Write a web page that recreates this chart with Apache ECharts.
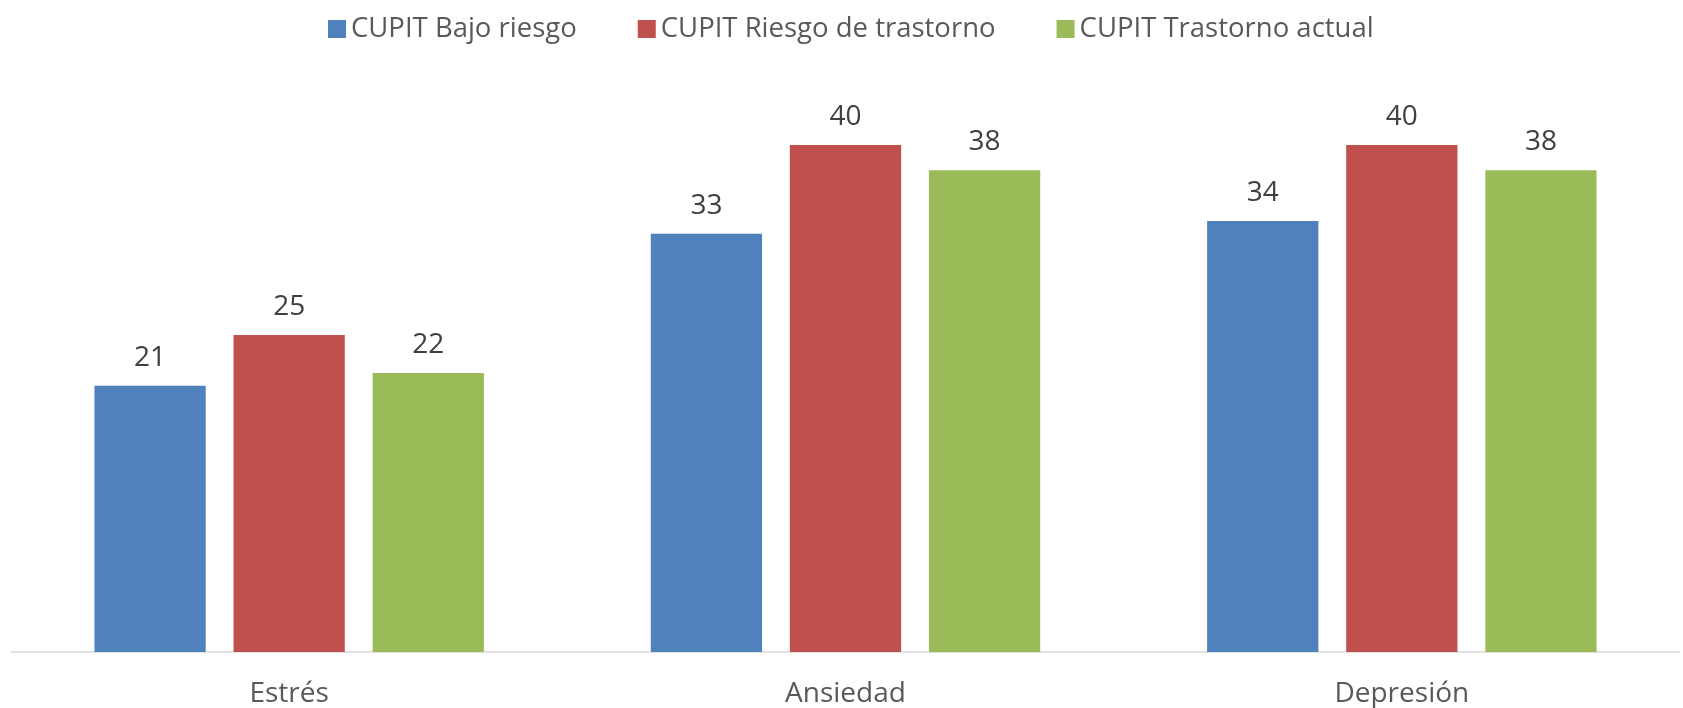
<!DOCTYPE html>
<html>
<head>
<meta charset="utf-8">
<script src="https://cdn.jsdelivr.net/npm/echarts@6/dist/echarts.min.js"></script>
<style>
html,body{margin:0;padding:0;background:#fff;}
#chart{width:1683px;height:708px;}
</style>
</head>
<body>
<div id="chart"></div>
<script>
const categories = ['Estrés', 'Ansiedad', 'Depresión'];
const seriesNames = ['CUPIT Bajo riesgo', 'CUPIT Riesgo de trastorno', 'CUPIT Trastorno actual'];
const bajoRiesgo = [21, 33, 34];
const riesgoTrastorno = [25, 40, 40];
const trastornoActual = [22, 38, 38];
const colors = ['#4f81bd', '#c0504d', '#9bbb59'];

const FONT = '"Open Sans", "Liberation Sans", sans-serif';
const values = [bajoRiesgo, riesgoTrastorno, trastornoActual];

const chart = echarts.init(document.getElementById('chart'), null, {renderer: 'canvas'});
chart.setOption({
  animation: false,
  backgroundColor: '#ffffff',
  legend: {
    data: seriesNames,
    top: 10,
    left: 323,
    itemWidth: 18,
    itemHeight: 18,
    itemGap: 61,
    icon: 'rect',
    textStyle: {fontFamily: FONT, fontSize: 27.5, color: '#595959', padding: [0, 0, 0, 0]}
  },
  grid: {left: 11, right: 3, top: 81.5, bottom: 55, containLabel: false},
  xAxis: {
    type: 'category',
    data: categories,
    axisLine: {lineStyle: {color: '#d9d9d9', width: 1.5}},
    axisTick: {show: false},
    axisLabel: {fontFamily: FONT, fontSize: 28, color: '#595959', margin: 28}
  },
  yAxis: {
    type: 'value',
    min: 0,
    max: 45,
    show: false,
    splitLine: {show: false}
  },
  series: seriesNames.map((name, i) => ({
    name: name,
    type: 'bar',
    data: values[i],
    barGap: '25%',
    barCategoryGap: '30%',
    itemStyle: {color: colors[i]},
    label: {
      show: true,
      position: 'top',
      distance: 14,
      fontFamily: FONT,
      fontSize: 28,
      color: '#404040'
    }
  }))
});
</script>
</body>
</html>
